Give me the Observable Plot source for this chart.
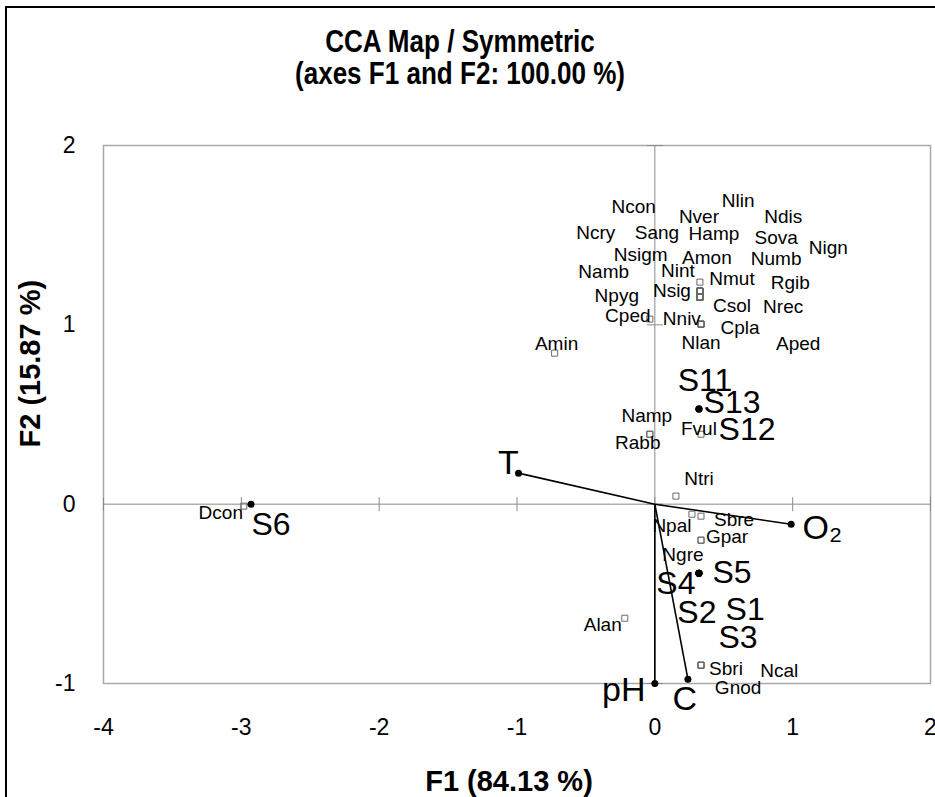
<!DOCTYPE html>
<html>
<head>
<meta charset="utf-8">
<script src="https://cdn.jsdelivr.net/npm/d3@7"></script>
<script src="https://cdn.jsdelivr.net/npm/@observablehq/plot@0.6"></script>
<style>
  html, body { margin: 0; padding: 0; background: #fff; }
  #wrap { position: relative; width: 935px; height: 797px; overflow: hidden; background: #fff;
          font-family: "Liberation Sans", Arial, sans-serif; }
  #border { position: absolute; left: 5px; top: 6px; width: 2000px; height: 2000px;
            border-left: 2px solid #000; border-top: 2px solid #000; pointer-events: none; }
  #title { position: absolute; left: 0; top: 26px; width: 920px; text-align: center;
           font-weight: bold; font-size: 31px; line-height: 32px; color: #000;
           transform: scaleX(0.84); transform-origin: 460px 0; }
  #chart { position: absolute; left: 0; top: 0; }
</style>
</head>
<body>
<div id="wrap">
  <div id="chart"></div>
  <div id="border"></div>
  <div id="title">CCA Map / Symmetric<br>(axes F1 and F2: 100.00 %)</div>
</div>
<script>
// ---- Data ----
const xTickValues = [-4, -3, -2, -1, 0, 1, 2];
const yTickValues = [-1, 0, 1, 2];

// Species (objects) : point coordinates and label coordinates
const speciesNames = ["Nlin","Ncon","Nver","Ndis","Ncry","Sang","Hamp","Sova","Nign","Nsigm",
  "Amon","Numb","Namb","Nint","Nmut","Rgib","Npyg","Nsig","Csol","Nrec",
  "Cped","Nniv","Cpla","Nlan","Aped","Amin","Namp","Fvul","Rabb","Ntri",
  "Npal","Sbre","Gpar","Ngre","Alan","Sbri","Ncal","Gnod","Dcon"];
const speciesF1 = [0.327,0.327,0.327,0.327,0.327,0.327,0.327,0.327,0.327,0.327,
  0.327,0.327,0.327,0.327,0.327,0.327,0.327,0.327,0.327,0.327,
  -0.036,0.335,0.335,0.335,0.335,-0.727,-0.036,0.335,-0.036,0.153,
  0.269,0.335,0.335,0.335,-0.218,0.335,0.335,0.335,-2.982];
const speciesF2 = [1.188,1.188,1.188,1.188,1.154,1.154,1.188,1.188,1.188,1.154,
  1.188,1.188,1.154,1.188,1.238,1.188,1.154,1.154,1.154,1.154,
  1.032,1.004,1.004,1.004,1.004,0.842,0.390,0.390,0.390,0.045,
  -0.056,-0.067,-0.201,-0.201,-0.636,-0.898,-0.898,-0.898,-0.011];
const speciesLabelF1 = [0.604,-0.153,0.320,0.931,-0.429,0.015,0.429,0.880,1.258,-0.102,
  0.378,0.880,-0.371,0.167,0.560,0.982,-0.276,0.124,0.560,0.931,
  -0.196,0.196,0.618,0.335,1.040,-0.713,-0.058,0.320,-0.124,0.320,
  0.124,0.575,0.524,0.204,-0.378,0.516,0.902,0.604,-3.149];
const speciesLabelF2 = [1.690,1.656,1.601,1.601,1.511,1.511,1.506,1.484,1.428,1.389,
  1.372,1.366,1.294,1.300,1.255,1.233,1.160,1.188,1.104,1.099,
  1.049,1.032,0.982,0.898,0.892,0.892,0.491,0.418,0.340,0.139,
  -0.123,-0.089,-0.184,-0.284,-0.675,-0.920,-0.931,-1.026,-0.050];

// Sites (observations)
const siteNames = ["S11","S13","S12","S5","S4","S2","S1","S3","S6"];
const siteF1 = [0.32,0.32,0.32,0.32,0.32,0.32,0.32,0.32,-2.93];
const siteF2 = [0.53,0.53,0.53,-0.385,-0.385,-0.385,-0.385,-0.385,0.0];
const siteLabelF1 = [0.364,0.560,0.669,0.560,0.153,0.305,0.655,0.604,-2.785];
const siteLabelF2 = [0.686,0.563,0.413,-0.385,-0.441,-0.608,-0.586,-0.747,-0.112];

// Environmental variables (vectors)
const envNames = ["T","O₂","pH","C"];
const envF1 = [-0.989, 0.989, 0.0, 0.24];
const envF2 = [0.173, -0.112, -1.0, -0.976];
const envLabelF1 = [-1.062, 1.215, -0.225, 0.218];
const envLabelF2 = [0.229, -0.134, -1.037, -1.088];

// ---- Build tables ----
const species = speciesNames.map((name, i) => ({name, x: speciesF1[i], y: speciesF2[i], lx: speciesLabelF1[i], ly: speciesLabelF2[i]}));
const sites = siteNames.map((name, i) => ({name, x: siteF1[i], y: siteF2[i], lx: siteLabelF1[i], ly: siteLabelF2[i]}));
const env = envNames.map((name, i) => ({name, x: envF1[i], y: envF2[i], lx: envLabelF1[i], ly: envLabelF2[i]}));

const vLine = {draw(ctx, size) { const r = Math.sqrt(size / Math.PI); ctx.moveTo(0, -r); ctx.lineTo(0, r); }};
const hLine = {draw(ctx, size) { const r = Math.sqrt(size / Math.PI); ctx.moveTo(-r, 0); ctx.lineTo(r, 0); }};

const axisGray = "#8a8a8a";
const font = "'Liberation Sans', Arial, sans-serif";

const plot = Plot.plot({
  width: 935,
  height: 797,
  marginLeft: 103,
  marginRight: 5,
  marginTop: 145,
  marginBottom: 114,
  style: {fontFamily: font, background: "#fff", color: "#000", overflow: "visible"},
  x: {domain: [-4, 2]},
  y: {domain: [-1, 2]},
  marks: [
    Plot.frame({stroke: "#a8a8a8", strokeWidth: 1.5}),
    Plot.ruleY([0], {stroke: axisGray, strokeWidth: 1}),
    Plot.ruleX([0], {stroke: axisGray, strokeWidth: 1}),
    Plot.dot(xTickValues, {x: d => d, y: 0, symbol: vLine, r: 7, stroke: axisGray, strokeWidth: 1}),
    Plot.dot(yTickValues, {x: 0, y: d => d, symbol: hLine, r: 8, stroke: axisGray, strokeWidth: 1}),
    Plot.axisX({ticks: xTickValues, tickSize: 0, tickPadding: 35, fontSize: 23, label: null, tickFormat: d => String(d)}),
    Plot.axisY({ticks: yTickValues, tickSize: 0, tickPadding: 28, fontSize: 23, label: null, tickFormat: d => String(d)}),
    Plot.link(env, {x1: 0, y1: 0, x2: "x", y2: "y", stroke: "#000", strokeWidth: 1.6}),
    Plot.dot(env, {x: "x", y: "y", r: 3.5, fill: "#000"}),
    Plot.dot(species, {x: "x", y: "y", symbol: "square", r: 3.4, stroke: "#6a6a6a", fill: "none", strokeWidth: 1}),
    Plot.dot(sites, {x: "x", y: "y", r: 3.5, fill: "#000"}),
    Plot.text(species, {x: "lx", y: "ly", text: "name", fontSize: 19, fill: "#000", textAnchor: "middle", lineAnchor: "middle"}),
    Plot.text(sites, {x: "lx", y: "ly", text: "name", fontSize: 32, fill: "#000", textAnchor: "middle", lineAnchor: "middle"}),
    Plot.text(env, {x: "lx", y: "ly", text: "name", fontSize: 34, fill: "#000", textAnchor: "middle", lineAnchor: "middle"}),
    Plot.text(["F1 (84.13 %)"], {frameAnchor: "bottom", dx: -8, dy: 98, fontSize: 29, fontWeight: "bold", fill: "#000", lineAnchor: "middle"}),
    Plot.text(["F2 (15.87 %)"], {frameAnchor: "left", dx: -73, dy: 33, rotate: -90, fontSize: 29, fontWeight: "bold", fill: "#000", lineAnchor: "middle"})
  ]
});
document.getElementById("chart").appendChild(plot);
</script>
</body>
</html>
